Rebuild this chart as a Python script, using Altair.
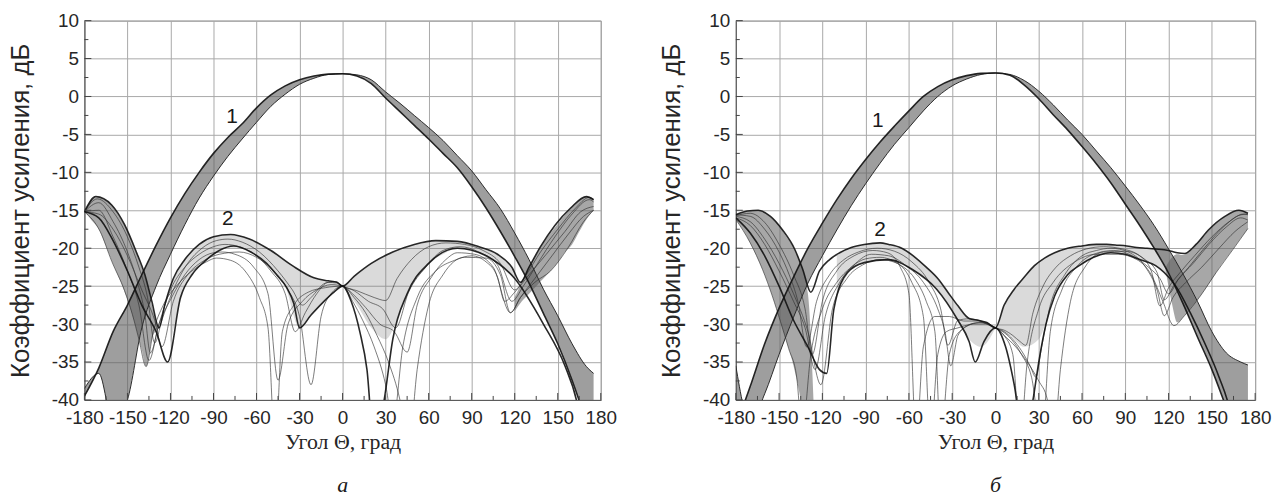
import altair as alt
import pandas as pd

# ---------------- axes ----------------
X_TICKS = [-180, -150, -120, -90, -60, -30, 0, 30, 60, 90, 120, 150, 180]
X_MINOR = [-165, -135, -105, -75, -45, -15, 15, 45, 75, 105, 135, 165]
Y_TICKS = [-40, -35, -30, -25, -20, -15, -10, -5, 0, 5, 10]
Y_MINOR = [-37.5, -32.5, -27.5, -22.5, -17.5, -12.5, -7.5, -2.5, 2.5, 7.5]

X_TITLE = "Угол Θ, град"
Y_TITLE = "Коэффициент усиления, дБ"
LBL_TEXT = ["1", "2"]

# ---------------- main lobe (family 1), common angle grid ----------------
MAIN_THETA = [-180, -170, -160, -150, -140, -130, -120, -110, -100, -90,
              -80, -70, -60, -50, -40, -30, -20, -10, 0,
              10, 20, 30, 40, 50, 60, 70, 80, 90,
              100, 110, 120, 130, 140, 150, 160, 170, 175]

A_MAIN_OUTER = [-39.5, -35.8, -31, -27.5, -23.5, -19.6, -16, -12.8, -10, -7.5,
                -5.4, -3.6, -1.5, 0.2, 1.4, 2.2, 2.7, 2.95, 3.0,
                2.7, 1.7, -0.2, -2.0, -3.8, -5.6, -7.5, -9.4, -11.9,
                -14.7, -17.8, -21.1, -24.6, -28.6, -32.6, -37.4, -43, -46]
A_MAIN_INNER = [-38.5, -36.5, -43, -40, -30.5, -25, -20.8, -16.9, -13.4, -10.5,
                -7.9, -5.6, -3.4, -1.3, 0.3, 1.6, 2.4, 2.9, 3.0,
                2.85, 2.2, 0.6, -0.9, -2.5, -4.1, -5.8, -7.8, -9.8,
                -12.3, -14.8, -18, -21.5, -25.4, -28.9, -32.6, -35.6, -36.5]

B_MAIN_OUTER = [-43.5, -38.2, -32.6, -27.9, -23.8, -20, -16.7, -13.6, -10.8, -8.3,
                -6, -3.9, -1.9, 0, 1.3, 2.2, 2.75, 3.05, 3.1,
                2.8, 1.5, -0.3, -2.4, -4.4, -6.6, -8.9, -11.4, -14.2,
                -17, -20, -23.3, -27.3, -31.7, -36, -41, -46, -48]
B_MAIN_INNER = [-35.5, -43, -39.2, -34, -29.1, -24.6, -21, -17.6, -14.4, -11.5,
                -8.8, -6.3, -4.1, -1.9, 0, 1.4, 2.3, 2.9, 3.1,
                2.9, 2.1, 0.7, -1.1, -3.1, -5, -7.2, -9.4, -11.8,
                -14.3, -17, -20.1, -23.4, -27, -31, -33.8, -35, -35.4]

# ---------------- back-lobe bands ----------------
A_BACK_L_THETA = [-180, -175, -170, -165, -160, -155, -150, -145, -140, -137, -133, -129]
A_BACK_L_TOP = [-15.2, -13.6, -13.3, -13.7, -14.5, -16, -17.7, -20, -22.4, -24.3, -27.5, -30.5]
A_BACK_L_BOT = [-15.2, -16.3, -17.5, -19.7, -22.1, -24.3, -26.8, -29.8, -33.4, -35.6, -32, -30.6]
A_BACK_R_THETA = [120, 125, 130, 135, 140, 145, 150, 155, 160, 165, 170, 175]
A_BACK_R_TOP = [-26.5, -24.5, -22.6, -20.8, -19.3, -18, -16.8, -15.6, -14.5, -13.7, -13.2, -13.5]
A_BACK_R_BOT = [-28.3, -27, -26, -25, -24, -23, -21.9, -20.5, -19.5, -17.8, -16.2, -15]

B_BACK_L_THETA = [-180, -175, -170, -165, -160, -155, -150, -145, -140, -135, -130, -125]
B_BACK_L_TOP = [-15.6, -15.2, -15.05, -15, -15.3, -16, -17, -18.5, -19.9, -22, -26, -46]
B_BACK_L_BOT = [-16.2, -17.6, -19.3, -21.3, -23.5, -26.1, -29.1, -32.2, -35.5, -40, -46, -46]
B_BACK_R_THETA = [118, 122, 126, 130, 135, 140, 145, 150, 155, 160, 165, 170, 175]
B_BACK_R_TOP = [-22.5, -21.3, -20.8, -20.9, -20.3, -19.3, -18.2, -17.2, -16.4, -15.7, -15.2, -15, -15.4]
B_BACK_R_BOT = [-23, -27, -29.8, -29.1, -27.9, -26.8, -25.5, -24.1, -22.6, -21.3, -20, -18.7, -17.4]

# ---------------- side-lobe bands (between upper envelope and dark arc) ----------------
SIDE_L_THETA_A = [-120, -110, -100, -90, -80, -70, -60, -50, -40, -30, -20, -10, 0]
A_SIDE_L_TOP = [-25, -21.5, -19.5, -18.5, -18.2, -18.4, -19.3, -20.3, -21.6, -22.9, -23.9, -24.3, -25]
A_SIDE_L_BOT = [-32.5, -25.2, -22.5, -20.9, -19.9, -20, -21, -22.6, -25, -30.5, -28.4, -26.5, -25]
SIDE_R_THETA = [0, 10, 20, 30, 40, 50, 60, 70, 80, 90, 100, 110, 120]
A_SIDE_R_TOP = [-25, -23.4, -22, -21, -20.2, -19.5, -19.2, -19, -19.1, -19.5, -20.2, -21.1, -23.2]
A_SIDE_R_BOT = [-25, -27.5, -30.5, -32, -28.5, -24.3, -22, -20.8, -20, -20.4, -21, -22.4, -24]

SIDE_L_THETA_B = [-110, -100, -90, -80, -70, -60, -50, -40, -30, -20, -10, 0]
B_SIDE_L_TOP = [-20.8, -19.9, -19.5, -19.3, -19.7, -20.6, -22.1, -24, -26.6, -28.9, -29.6, -30.5]
B_SIDE_L_BOT = [-26.5, -22.8, -21.9, -21.6, -21.7, -22.6, -24, -25.6, -28.3, -31.6, -33, -30.5]
B_SIDE_R_TOP = [-30.5, -26.3, -23.8, -21.8, -20.7, -20, -19.7, -19.5, -19.5, -19.7, -19.9, -20.1, -20.3]
B_SIDE_R_BOT = [-30.5, -31.5, -33, -32, -26.8, -23.5, -22.1, -21.1, -20.6, -20.8, -21.5, -22.2, -24]

# ---------------- family 2, panel a ----------------
A_K1_X = [-180, -172, -161, -152, -144, -138, -133, -128, -124, -118, -110, -100, -90, -78, -65, -50, -35, -20, -10, -4,
          0, 8, 20, 35, 50, 65, 80, 95, 108, 118, 124, 130, 138, 148, 159, 170, 175]
A_K1_Y = [-15.2, -13.2, -14.3, -16.9, -20.4, -23.4, -27, -30.5, -27.5, -24, -21.5, -19.5, -18.5, -18.2, -18.8, -20.3, -22.3, -23.9, -24.3, -24.5,
          -25, -23.7, -22, -20.5, -19.5, -19, -19.1, -19.8, -20.8, -22.5, -24.5, -22.5, -19.8, -17, -14.7, -13.2, -13.6]
A_K2_X = [-180, -171, -160, -150, -142, -136, -131, -126, -118, -108, -98, -88, -80, -70, -58, -45, -35, -28, -22, -12,
          -5, 0, 10, 22, 30, 38, 48, 60, 72, 85, 98, 110, 120, 128, 138, 150, 162, 172, 175]
A_K2_Y = [-15.2, -13.5, -15.2, -18.5, -22.5, -26.5, -32.5, -29.5, -25.5, -22, -20, -19, -18.8, -19.2, -20.5, -23, -25.5, -27.5, -26.5, -24.6,
          -24.4, -25, -25.6, -26.5, -26.9, -24, -21.5, -19.8, -19.3, -19.5, -20.3, -22, -25.5, -23.5, -20.5, -17.5, -14.8, -13.3, -13.6]
A_K3_X = [-180, -170, -160, -150, -143, -138, -134, -128, -120, -110, -100, -90, -82, -72, -60, -50, -40, -33, -26, -18,
          -10, -4, 0, 8, 18, 28, 37, 46, 58, 70, 82, 95, 108, 118, 126, 136, 148, 160, 172, 175]
A_K3_Y = [-15.2, -14, -16.5, -20.5, -24.5, -28.5, -33.8, -30, -25.5, -22.5, -20.8, -19.8, -19.5, -19.8, -21, -23, -26, -31, -28.5, -26,
          -24.5, -24.6, -25, -25.6, -27, -28, -30.5, -25.8, -22.5, -20.3, -19.8, -20.5, -22.2, -27, -25, -22, -18.5, -15.5, -13.6, -13.9]
A_K4_X = [-180, -170, -160, -150, -142, -135, -128, -120, -110, -100, -90, -84, -75, -62, -52, -45, -38, -28, -18, -8,
          0, 8, 16, 26, 36, 45, 52, 62, 72, 80, 92, 105, 117, 124, 134, 145, 157, 168, 175]
A_K4_Y = [-15.2, -15, -18.5, -23, -27.5, -34.8, -30, -26.8, -23.5, -21.5, -20.6, -20.5, -20.8, -22.5, -26, -37.4, -30, -27, -25.5, -24.8,
          -25, -26.2, -27.8, -30, -31, -33.7, -27.5, -23.8, -21.5, -20.6, -20.8, -22.5, -28.5, -26.5, -24.5, -23, -20, -16.5, -15]
A_K5_X = [-180, -169, -161, -152, -146.6, -142, -137, -132, -125, -115, -105, -95, -88, -78, -68, -58, -52, -47, -42, -34,
          -24, -12, 0, 8, 16, 24, 32, 40, 46, 52, 60, 70, 85, 100, 110, 117, 124, 134, 146, 158, 168, 175]
A_K5_Y = [-15.2, -17.8, -21.7, -25.6, -28.7, -32, -35.6, -31, -27.5, -24.8, -23, -21.8, -21.3, -21.6, -23, -26.5, -30.5, -46, -31, -27.5,
          -25.8, -25.2, -25, -26.5, -28.5, -31.5, -35, -40, -46, -36, -27.5, -23.5, -21.2, -21.3, -23.5, -28.5, -26.5, -24, -21, -18, -15.8, -15]
A_K6_X = [-180, -170, -160, -150, -140, -130, -122, -113, -105, -96, -86, -76, -64, -53, -46, -39, -34, -30, -22, -14,
          -6, 0, 6, 12, 17, 22, 29, 35, 45, 60, 80, 100, 120, 140, 155, 163, 168]
A_K6_Y = [-15.2, -16, -19, -23, -27.5, -31, -35, -26.5, -23.5, -21.7, -20.3, -19.7, -20.5, -22, -23.5, -25.2, -27.3, -30.5, -28.8, -27.2,
          -25.8, -25, -27, -31, -36, -46, -40, -32, -26, -22, -20, -21, -24, -30, -35.5, -40, -45]
A_K7_X = [-180, -170, -160, -150, -140, -131, -126, -118, -108, -98, -86, -72, -60, -48, -38, -30, -22, -15, -8, 0,
          7, 14, 22, 30, 35, 42, 52, 65, 78, 90, 100, 108, 113, 120, 130, 142, 155, 166, 175]
A_K7_Y = [-15.2, -15.5, -17.5, -21, -25.5, -29.5, -33, -27, -23.5, -21.8, -20.8, -20.5, -21.2, -23, -25.5, -29, -38, -29, -26, -25,
          -27, -29.5, -33, -38, -43, -33, -26.5, -23, -21.6, -21, -21.8, -23.8, -27, -25.8, -23.5, -20.8, -17.8, -15.2, -14.5]

# ---------------- family 2, panel b ----------------
B_K1_X = [-180, -172, -164.5, -156, -147.6, -139, -133.6, -128, -122, -115, -108, -100, -91, -80, -74, -65, -57, -48, -40, -33,
          -26, -18, -12, -6, 0, 6, 13, 20, 27, 34, 41, 50, 60, 70, 77, 85, 91, 98, 105, 111,
          117, 122, 126, 131, 139, 147.6, 159, 168.7, 175]
B_K1_Y = [-15.6, -15.1, -15, -15.8, -17.6, -20.2, -22.8, -25.8, -23, -21.5, -20.6, -19.9, -19.5, -19.3, -19.5, -20, -21, -22.5, -24, -25.8,
          -27.6, -29.3, -29.5, -29.8, -30.5, -27.5, -25.4, -23.8, -22.3, -21.3, -20.6, -20, -19.7, -19.5, -19.5, -19.6, -19.7, -19.9, -20, -20.1,
          -20.2, -20.4, -20.6, -20.7, -19.5, -17.6, -15.8, -15, -15.4]
B_K2_X = [-180, -170, -160, -150, -143, -137, -131, -124, -115, -105, -95, -82, -70, -58, -46, -38, -33, -26, -18, -10,
          -4, 0, 6, 12, 17, 21, 26, 33, 42, 52, 63, 75, 88, 100, 108, 114, 120, 128, 138, 150, 162, 172, 175]
B_K2_Y = [-15.6, -15.8, -17.5, -20.5, -23.5, -27, -33, -27, -23.5, -21.5, -20.5, -20, -20.4, -21.8, -24.5, -28, -32.8, -29.5, -29.3, -29.6,
          -30, -30.5, -30.8, -31.5, -32.3, -32.8, -28.5, -25, -22.5, -21, -20.1, -19.8, -20.1, -21, -23, -27.6, -25.2, -23.2, -21, -18.5, -16.5, -15.5, -15.6]
B_K3_X = [-180, -170, -160, -150, -140, -132, -125, -118, -108, -97, -86, -74, -62, -50, -40, -35, -31, -26, -19, -12,
          -5, 0, 6, 12, 18, 24, 28, 32, 38, 48, 60, 70, 80, 92, 104, 112, 117, 123, 132, 143, 155, 166, 175]
B_K3_Y = [-16, -17, -19.5, -23, -27, -30.5, -36, -29, -24.5, -22, -20.8, -21, -22.3, -24.5, -28, -31, -35.5, -31.5, -30.2, -29.8,
          -30, -30.5, -31, -32, -33.5, -35.5, -37, -33, -27.5, -23.5, -21, -20.3, -20, -20.5, -22.5, -25.5, -28.9, -26.5, -24.5, -22.5, -20, -17.8, -16.5]
B_K4_X = [-180, -170, -161.5, -154.7, -149, -143.4, -137.8, -134, -128, -120, -110, -100, -90, -80, -68, -56, -48, -42, -38, -32,
          -25, -15, -6, 0, 6, 12, 17, 22, 30, 40, 55, 70, 85, 98, 108, 116, 123.7, 131, 142, 153, 164.5, 175]
B_K4_Y = [-16.2, -19.3, -22.8, -26.3, -29.7, -33.2, -37, -44, -34, -28, -24.5, -22.5, -21.4, -21.2, -22, -24, -27, -31, -45, -34,
          -31, -30, -30, -30.5, -31.5, -34, -45, -35, -28, -24.5, -21.8, -20.8, -20.8, -21.5, -23.5, -27, -30.2, -28.9, -26.3, -23.2, -20.2, -17.4]
B_K5_X = [-180, -170, -160, -150, -140, -130, -122, -117, -112, -102.6, -91, -74.5, -57.6, -40.8, -26.7, -18.3, -14, -8, 0, 7,
          13, 20, 26, 30, 35, 41, 50, 58, 68, 80, 90, 100, 111, 117, 125, 135, 145, 155, 162, 166]
B_K5_Y = [-16, -18, -21, -25, -29.5, -33, -36, -36.5, -28, -23.2, -21.9, -21.5, -22.8, -25.4, -29.3, -32.3, -35, -32.3, -30.5, -33,
          -38, -46, -40, -35, -30, -26.3, -23.5, -22.3, -21.2, -20.6, -20.8, -21.5, -22.3, -23.2, -25, -28.5, -32.5, -37, -41, -45]
B_K6_X = [-180, -170, -160, -150, -140, -130, -121, -113, -103, -92, -80, -68, -58, -50, -45, -40, -34, -26, -17, -9,
          -3, 0, 5, 11, 18, 25, 32, 38, 46, 56, 68, 82, 95, 106, 114, 120, 127, 137, 148, 160, 170, 175]
B_K6_Y = [-15.8, -16.5, -18.8, -22, -26, -31, -38, -28, -24, -22.2, -21.5, -22, -24.5, -29, -45, -34, -31, -30.5, -30, -29.8,
          -30.2, -30.5, -31, -32, -34, -37, -45, -31, -25.5, -22.5, -20.8, -20.3, -21, -22.5, -24, -26, -24, -22, -19.5, -17.2, -16, -16.3]
B_K7_X = [-180, -170, -160, -150, -140, -132, -127, -120, -110, -98, -85, -75, -66, -60, -55, -50, -42, -32, -22, -12,
          -4, 0, 6, 14, 22, 30, 36, 40, 45, 52, 62, 75, 90, 103, 112, 117, 124, 134, 146, 158, 170, 175]
B_K7_Y = [-15.7, -15.4, -16.6, -19.5, -23.5, -28, -34, -27, -23, -21, -20.3, -20.6, -22.5, -26, -45, -33, -29, -29, -29.6, -29.6,
          -30.2, -30.5, -31.5, -33, -35, -37.5, -40, -46, -36, -27, -22.5, -20.5, -20.4, -21.4, -23.2, -26.8, -24.8, -22.5, -19.7, -17.2, -15.6, -15.5]

# curve-label positions
A_LBL_X = [-77, -80]
A_LBL_Y = [-2.7, -16.2]
B_LBL_X = [-81.5, -80]
B_LBL_Y = [-3.2, -17.6]

SANS = "Liberation Sans"
SERIF = "Liberation Serif"
H = 382


def curves_df(curves):
    rows = []
    for name, (xs, ys) in curves.items():
        assert len(xs) == len(ys), name
        for t, g in zip(xs, ys):
            rows.append({"curve": name, "theta": t, "gain": g})
    return pd.DataFrame(rows)


def band_df(theta, top, bot):
    assert len(theta) == len(top) == len(bot)
    return pd.DataFrame({"theta": theta, "hi": top, "lo": bot})


XS = alt.Scale(domain=[-180, 180], nice=False, zero=False)
YS = alt.Scale(domain=[-40, 10], nice=False, zero=False)
LABEL_EXPR = "toString(datum.value)"
XAXIS = alt.Axis(values=X_TICKS, grid=True, gridColor="#a8a8a8", gridWidth=1, ticks=False,
                 domainColor="#555", labelFont=SANS, labelFontSize=19, labelColor="#262626",
                 labelPadding=9, labelFlush=False, labelOverlap=False, labelExpr=LABEL_EXPR,
                 title=X_TITLE, titleFont=SERIF, titleFontSize=22, titleFontWeight="normal",
                 titleColor="#262626", titlePadding=4)
YAXIS = alt.Axis(values=Y_TICKS, grid=True, gridColor="#a8a8a8", gridWidth=1, ticks=False,
                 domainColor="#555", labelFont=SANS, labelFontSize=19, labelColor="#262626",
                 labelPadding=6, labelFlush=False, labelOverlap=False, labelExpr=LABEL_EXPR,
                 title=Y_TITLE, titleFont=SANS, titleFontSize=26, titleFontWeight="normal",
                 titleColor="#262626", titlePadding=18)


def X(field):
    return alt.X(field, scale=XS, axis=XAXIS)


def Y(field):
    return alt.Y(field, scale=YS, axis=YAXIS)


def band_layer(df, color, opacity):
    return (alt.Chart(df).mark_area(clip=True, interpolate="monotone", color=color, opacity=opacity)
            .encode(x=X("theta:Q"), y=Y("hi:Q"), y2="lo:Q"))


def make_panel(width, main_out, main_in, backs, sides, light, dark, lbl_x, lbl_y, caption):
    layers = [band_layer(band_df(MAIN_THETA, main_out, main_in), "#5e5e5e", 0.6)]
    for th, tp, bt in backs:
        layers.append(band_layer(band_df(th, tp, bt), "#5e5e5e", 0.55))
    for th, tp, bt in sides:
        layers.append(band_layer(band_df(th, tp, bt), "#6a6a6a", 0.25))
    layers.append(
        alt.Chart(curves_df(light)).mark_line(clip=True, interpolate="monotone", color="#2e2e2e",
                                              strokeWidth=0.9, opacity=0.7)
        .encode(x=X("theta:Q"), y=Y("gain:Q"), detail="curve:N"))
    layers.append(
        alt.Chart(curves_df({"in": (MAIN_THETA, main_in)})).mark_line(
            clip=True, interpolate="monotone", color="#2a2a2a", strokeWidth=1.0)
        .encode(x=X("theta:Q"), y=Y("gain:Q"), detail="curve:N"))
    dk = dict(dark)
    dk["out"] = (MAIN_THETA, main_out)
    layers.append(
        alt.Chart(curves_df(dk)).mark_line(clip=True, interpolate="monotone", color="#111111",
                                           strokeWidth=1.6, opacity=0.9)
        .encode(x=X("theta:Q"), y=Y("gain:Q"), detail="curve:N"))
    tick_col = "#444"
    layers.append(alt.Chart(pd.DataFrame({"theta": X_TICKS})).mark_rule(color=tick_col)
                  .encode(x=X("theta:Q"), y=alt.value(H), y2=alt.value(H - 7)))
    layers.append(alt.Chart(pd.DataFrame({"theta": X_MINOR})).mark_rule(color=tick_col)
                  .encode(x=X("theta:Q"), y=alt.value(H), y2=alt.value(H - 4)))
    layers.append(alt.Chart(pd.DataFrame({"gain": Y_TICKS})).mark_rule(color=tick_col)
                  .encode(y=Y("gain:Q"), x=alt.value(0), x2=alt.value(7)))
    layers.append(alt.Chart(pd.DataFrame({"gain": Y_MINOR})).mark_rule(color=tick_col)
                  .encode(y=Y("gain:Q"), x=alt.value(0), x2=alt.value(4)))
    layers.append(alt.Chart(pd.DataFrame({"lbl": LBL_TEXT, "theta": lbl_x, "gain": lbl_y}))
                  .mark_text(font=SANS, fontSize=21, color="#1a1a1a", align="center", baseline="middle")
                  .encode(x=X("theta:Q"), y=Y("gain:Q"), text="lbl:N"))
    return alt.layer(*layers).properties(
        width=width, height=H,
        title=alt.TitleParams(caption, orient="bottom", font=SERIF, fontStyle="italic",
                              fontSize=22, fontWeight="normal", color="#1a1a1a", offset=23))


panel_a = make_panel(
    520, A_MAIN_OUTER, A_MAIN_INNER,
    [(A_BACK_L_THETA, A_BACK_L_TOP, A_BACK_L_BOT), (A_BACK_R_THETA, A_BACK_R_TOP, A_BACK_R_BOT)],
    [(SIDE_L_THETA_A, A_SIDE_L_TOP, A_SIDE_L_BOT), (SIDE_R_THETA, A_SIDE_R_TOP, A_SIDE_R_BOT)],
    {"k2": (A_K2_X, A_K2_Y), "k3": (A_K3_X, A_K3_Y), "k4": (A_K4_X, A_K4_Y),
     "k5": (A_K5_X, A_K5_Y), "k7": (A_K7_X, A_K7_Y)},
    {"k1": (A_K1_X, A_K1_Y), "k6": (A_K6_X, A_K6_Y)},
    A_LBL_X, A_LBL_Y, "а")

panel_b = make_panel(
    523, B_MAIN_OUTER, B_MAIN_INNER,
    [(B_BACK_L_THETA, B_BACK_L_TOP, B_BACK_L_BOT), (B_BACK_R_THETA, B_BACK_R_TOP, B_BACK_R_BOT)],
    [(SIDE_L_THETA_B, B_SIDE_L_TOP, B_SIDE_L_BOT), (SIDE_R_THETA, B_SIDE_R_TOP, B_SIDE_R_BOT)],
    {"k2": (B_K2_X, B_K2_Y), "k3": (B_K3_X, B_K3_Y), "k4": (B_K4_X, B_K4_Y),
     "k6": (B_K6_X, B_K6_Y), "k7": (B_K7_X, B_K7_Y)},
    {"k1": (B_K1_X, B_K1_Y), "k5": (B_K5_X, B_K5_Y)},
    B_LBL_X, B_LBL_Y, "б")

chart = alt.hconcat(panel_a, panel_b, spacing=136, bounds="flush").properties(
    padding={"left": 7, "top": 9, "right": 5, "bottom": 0},
    background="white",
).configure_view(stroke="#8a8a8a", strokeWidth=1)

chart.save("out.html", embed_options={"renderer": "svg", "actions": False})
